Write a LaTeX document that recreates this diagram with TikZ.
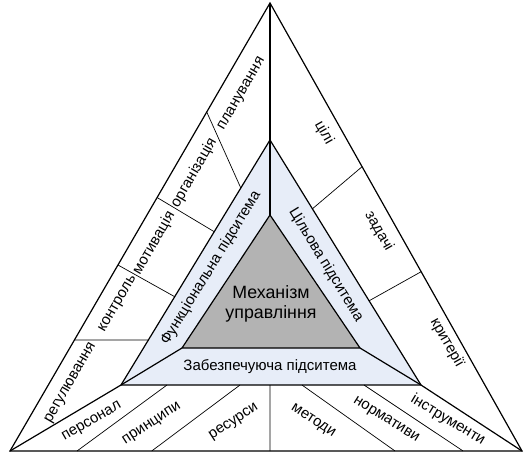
\documentclass[tikz,border=0pt]{standalone}
\usepackage{fontspec}
\setmainfont{Liberation Sans}
\usetikzlibrary{calc}
\definecolor{bandblue}{RGB}{231,237,248}
\definecolor{coregray}{RGB}{179,179,179}
\begin{document}
\begin{tikzpicture}[x=1pt,y=-1pt,
  edge/.style={line width=1.2pt, line join=miter},
  divider/.style={line width=0.7pt},
  lbl/.style={font=\fontsize{15}{16.5}\selectfont, inner sep=0pt},
  core/.style={font=\fontsize{17.8}{19.5}\selectfont, align=center, inner sep=0pt}]
\useasboundingbox (0,0) rectangle (525,453);

% vertices of the three nested triangles
\coordinate (OA) at (270,3);
\coordinate (OL) at (10,451);
\coordinate (OR) at (522,451);
\coordinate (MA) at (270,140);
\coordinate (ML) at (121,385);
\coordinate (MR) at (421,385);
\coordinate (IA) at (270,215);
\coordinate (IL) at (182,348);
\coordinate (IR) at (360,348);

% fills
\fill[bandblue] (MA) -- (ML) -- (MR) -- cycle;
\fill[coregray] (IA) -- (IL) -- (IR) -- cycle;

% end points of the dividers on the triangle sides
\coordinate (L1o) at ($(OA)!0.2433!(OL)$);
\coordinate (L1m) at ($(MA)!0.1959!(ML)$);
\coordinate (L2o) at ($(OA)!0.4342!(OL)$);
\coordinate (L2m) at ($(MA)!0.3743!(ML)$);
\coordinate (L3o) at ($(OA)!0.5848!(OL)$);
\coordinate (L3m) at ($(MA)!0.6396!(ML)$);
\coordinate (L4o) at ($(OA)!0.7522!(OL)$);
\coordinate (L4m) at ($(MA)!0.8163!(ML)$);
\coordinate (R1o) at ($(OA)!0.3654!(OR)$);
\coordinate (R1m) at ($(MA)!0.2808!(MR)$);
\coordinate (R2o) at ($(OA)!0.5998!(OR)$);
\coordinate (R2m) at ($(MA)!0.6563!(MR)$);
\coordinate (B1o) at ($(OL)!0.1309!(OR)$);
\coordinate (B1m) at ($(ML)!0.1533!(MR)$);
\coordinate (B2o) at ($(OL)!0.2768!(OR)$);
\coordinate (B2m) at ($(ML)!0.3967!(MR)$);
\coordinate (B3o) at ($(OL)!0.5078!(OR)$);
\coordinate (B3m) at ($(ML)!0.4967!(MR)$);
\coordinate (B4o) at ($(OL)!0.7520!(OR)$);
\coordinate (B4m) at ($(ML)!0.6033!(MR)$);
\coordinate (B5o) at ($(OL)!0.8848!(OR)$);
\coordinate (B5m) at ($(ML)!0.8100!(MR)$);

% dividers
\draw[divider] (L1o) -- (L1m);
\draw[divider] (L2o) -- (L2m);
\draw[divider] (L3o) -- (L3m);
\draw[divider] (L4o) -- (L4m);
\draw[divider] (R1o) -- (R1m);
\draw[divider] (R2o) -- (R2m);
\draw[divider] (B1o) -- (B1m);
\draw[divider] (B2o) -- (B2m);
\draw[divider] (B3o) -- (B3m);
\draw[divider] (B4o) -- (B4m);
\draw[divider] (B5o) -- (B5m);

% triangles and the corner connectors
\draw[edge] (OA) -- (OL) -- (OR) -- cycle;
\draw[edge] (MA) -- (ML) -- (MR) -- cycle;
\draw[edge] (IA) -- (IL) -- (IR) -- cycle;
\draw[edge] (OA) -- (MA) -- (IA);
\draw[edge] (OL) -- (ML) -- (IL);
\draw[edge] (OR) -- (MR) -- (IR);

% core
\node[core] (mech) at (271,304) {Механізм\\управління};

% subsystems
\node[lbl, rotate=58.5] (func) at (211,268) {Функціональна підситема};
\node[lbl, rotate=-58.5] (goal) at (326,265) {Цільова підситема};
\node[lbl] (supp) at (270,367) {Забезпечуюча підситема};

% functional elements
\node[lbl, rotate=60] (plan) at (242,94) {планування};
\node[lbl, rotate=60] (org) at (194,173) {організація};
\node[lbl, rotate=60] (motiv) at (154,243) {мотивація};
\node[lbl, rotate=60] (ctrl) at (118,304) {контроль};
\node[lbl, rotate=60] (reg) at (71,383) {регулювання};

% goal elements
\node[lbl, rotate=-60.5] (aims) at (324,133) {цілі};
\node[lbl, rotate=-60.5] (tasks) at (379,231) {задачі};
\node[lbl, rotate=-60.5] (crit) at (447,343) {критерії};

% supporting elements
\node[lbl, rotate=30] (staff) at (92,422) {персонал};
\node[lbl, rotate=33] (princ) at (152,424) {принципи};
\node[lbl, rotate=33] (res) at (234,422) {ресурси};
\node[lbl, rotate=-33] (meth) at (313,421) {методи};
\node[lbl, rotate=-32] (norm) at (386,420) {нормативи};
\node[lbl, rotate=-31] (tools) at (448,420) {інструменти};
\end{tikzpicture}
\end{document}
